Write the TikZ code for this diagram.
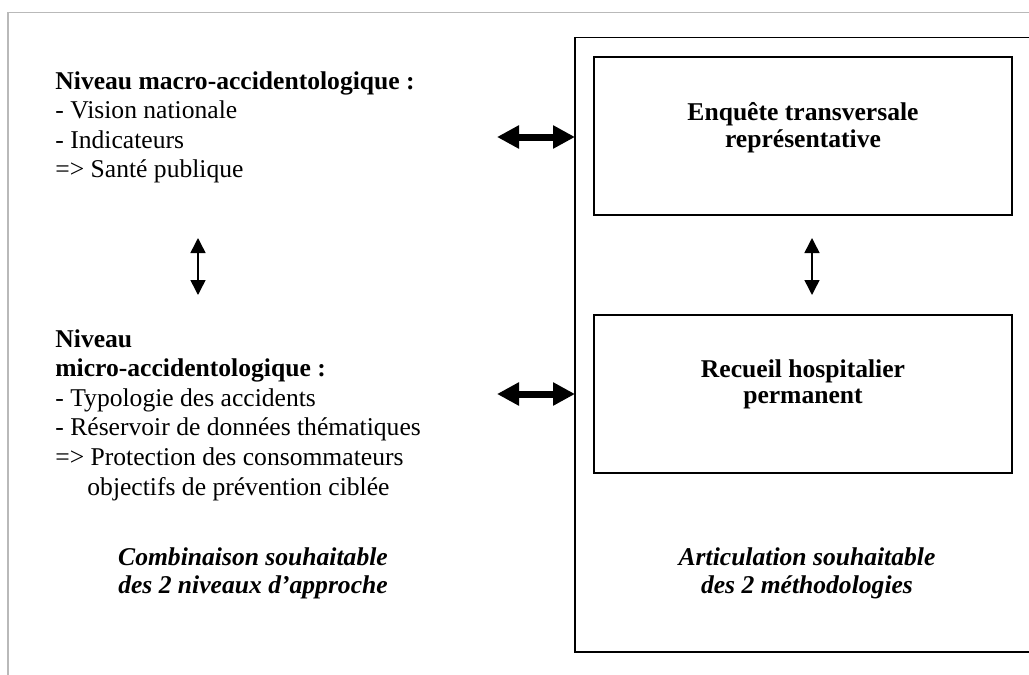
\documentclass[tikz,border=0pt]{standalone}
\usepackage{fontspec}
\setmainfont{Liberation Serif}
\usepackage{tikz}
\usetikzlibrary{arrows.meta,positioning}

\begin{document}
\begin{tikzpicture}[x=0.5pt,y=-0.5pt,
	boite/.style={draw,line width=0.8pt,outer sep=0pt,minimum width=209pt,minimum height=79pt},
	bloc/.style={inner sep=0pt,align=left,font=\fontsize{12.8}{14.8}\selectfont},
	titre/.style={inner sep=0pt,align=center,font=\fontsize{12.8}{13.35}\selectfont\bfseries},
	legende/.style={inner sep=0pt,align=center,font=\fontsize{12.8}{14}\selectfont\bfseries\itshape},
	grosse/.style={line width=3.5pt,{Triangle[length=11pt,width=11pt]}-{Triangle[length=11pt,width=11pt]}},
	fine/.style={line width=0.75pt,{Triangle[length=7.5pt,width=7.5pt]}-{Triangle[length=7.5pt,width=7.5pt]}}]
		%\draw[help lines] (0,0) grid (1029,675);
		\useasboundingbox (0,0) rectangle (1029,675);
		\clip (0,0) rectangle (1029,675);
		\draw[gray!55,line width=0.6pt] (8,675) -- (8,12.5) -- (1029,12.5);
		\node[draw,line width=0.8pt,outer sep=0pt,anchor=north west,minimum width=260pt,minimum height=307.25pt] (cadre) at (575,37.5) {};
		\node[boite] (enq) at (803,136) {};
		\node[boite] (rec) at (803,394) {};
		\node[titre,below=22.5pt of enq.north] (enqtxt) {Enquête transversale\\représentative};
		\node[titre,below=22pt of rec.north] (rectxt) {Recueil hospitalier\\permanent};
		\node[bloc,anchor=north west] (macro) at (55,71) {\textbf{Niveau macro-accidentologique :}\\- Vision nationale\\- Indicateurs\\=> Santé publique};
		\node[bloc,anchor=north west] (micro) at (55,329) {\textbf{Niveau}\\\textbf{micro-accidentologique :}\\- Typologie des accidents\\- Réservoir de données thématiques\\=> Protection des consommateurs\\\hspace*{16pt}objectifs de prévention ciblée};
		\node[legende,anchor=north] (combi) at (253,547) {Combinaison souhaitable\\des 2 niveaux d’approche};
		\node[legende,anchor=north] (artic) at (807,547) {Articulation souhaitable\\des 2 méthodologies};
		\foreach \n/\y in {mac/137, mic/394} {
			\coordinate (\n) at (497,\y);
			\draw[grosse] (\n) -- (\n -| cadre.west);
		}
		\coordinate (hautg) at (198,238);
		\coordinate (basg) at (198,295);
		\draw[fine] (hautg) -- (basg);
		\draw[fine] ([xshift=4.5pt,yshift=-11.5pt]enq.south) -- ([xshift=4.5pt,yshift=10pt]rec.north);
\end{tikzpicture}
\end{document}
